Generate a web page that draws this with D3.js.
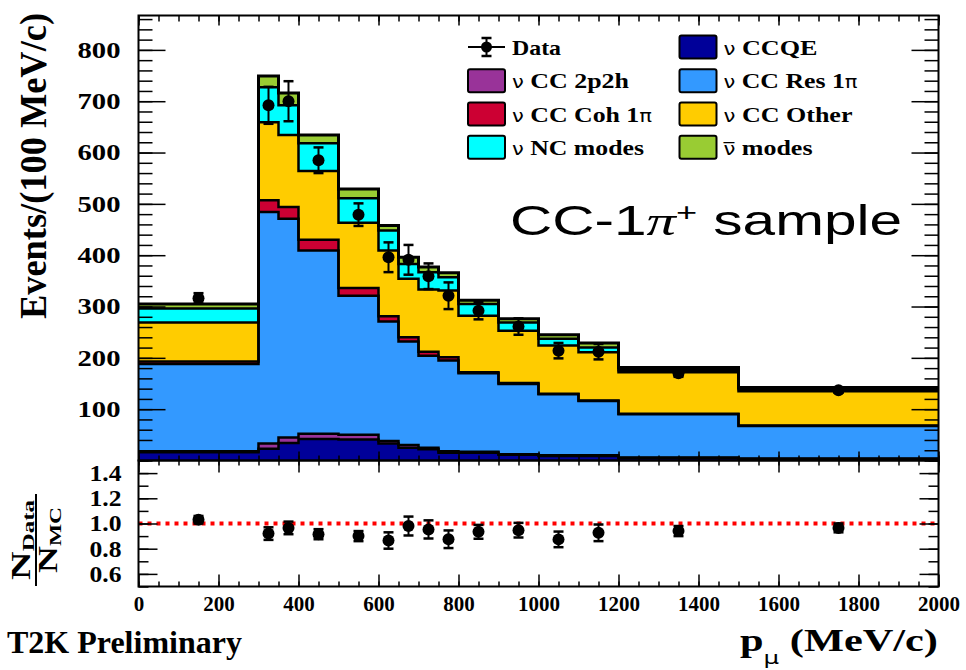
<!DOCTYPE html>
<html>
<head>
<meta charset="utf-8">
<script src="https://cdn.jsdelivr.net/npm/d3@7"></script>
<style>
  body { margin: 0; background: #fff; }
  svg { display: block; }
  text { font-family: "Liberation Serif", "Times New Roman", serif; font-weight: bold; fill: #000; }
  .tick line { stroke: #000; stroke-width: 1.5; }
</style>
</head>
<body>
<div id="chart"></div>
<script>
// ---- data (Events / 100 MeV/c) ----
const binEdges = [0, 300, 350, 400, 500, 600, 650, 700, 750, 800, 900, 1000, 1100, 1200, 1500, 2000];

const ccqe    = [16, 23, 34, 42, 41, 33, 25, 22, 15, 15, 11, 9, 9, 5, 3];
const cc2p2h  = [2, 10, 11, 10, 9, 5, 5, 3, 3, 2, 1, 1, 1, 1, 1];
const ccRes   = [170, 451, 426, 357, 271, 233, 202, 179, 177, 153, 137, 119, 106, 84, 63];
const ccCoh   = [5, 23, 23, 21, 15, 10, 8, 8, 6, 2, 2, 1, 1, 1, 1];
const ccOther = [76, 152, 140, 134, 127, 128, 114, 121, 130, 110, 102, 94, 94, 81, 67];
const ncModes = [27, 68, 58, 54, 48, 39, 29, 34, 26, 23, 16, 13, 9, 4, 4];
const antiNu  = [9, 22, 24, 16, 18, 10, 13, 10, 9, 7, 7, 8, 9, 5, 3];

const dataVal = [316, 692, 700, 585, 479, 396, 391, 359, 321, 292, 261, 214, 212, 170, 137];
const dataErr = [10, 36, 39, 25, 22, 29, 29, 25, 26, 17, 16, 15, 15, 7, 5];

const ratioVal = [1.03, 0.92, 0.965, 0.915, 0.90, 0.865, 0.98, 0.953, 0.875, 0.934, 0.947, 0.874, 0.926, 0.94, 0.965];
const ratioErr = [0.03, 0.05, 0.05, 0.04, 0.04, 0.065, 0.075, 0.072, 0.07, 0.055, 0.058, 0.062, 0.066, 0.04, 0.035];

const xTicks = [0, 200, 400, 600, 800, 1000, 1200, 1400, 1600, 1800, 2000];
const yTicks = [100, 200, 300, 400, 500, 600, 700, 800];
const rTicks = [0.6, 0.8, 1.0, 1.2, 1.4];

// stack order bottom -> top
const layers = [
  { key: "ccqe",  vals: ccqe,    color: "#000099" },
  { key: "2p2h",  vals: cc2p2h,  color: "#993399" },
  { key: "res",   vals: ccRes,   color: "#3399ff" },
  { key: "coh",   vals: ccCoh,   color: "#cc0033" },
  { key: "other", vals: ccOther, color: "#ffcc00" },
  { key: "nc",    vals: ncModes, color: "#00ffff" },
  { key: "anti",  vals: antiNu,  color: "#99cc33" },
];

const W = 966, H = 670;
const svg = d3.select("#chart").append("svg").attr("width", W).attr("height", H);
svg.append("rect").attr("width", W).attr("height", H).attr("fill", "#fff");

// scales
const x = d3.scaleLinear().domain([0, 2000]).range([138.5, 938.5]);
const y = d3.scaleLinear().domain([0, 867]).range([460.5, 15.5]);
const yr = d3.scaleLinear().domain([0.5, 1.5]).range([586.5, 460.5]);

svg.append("clipPath").attr("id", "clipTop")
  .append("rect").attr("x", x(0)).attr("y", y(867)).attr("width", x(2000) - x(0)).attr("height", y(0) - y(867));

// ---- stacked histogram ----
const rows = binEdges.map((e, i) => {
  const j = Math.min(i, binEdges.length - 2);
  const r = { edge: e };
  layers.forEach(l => { r[l.key] = l.vals[j]; });
  return r;
});
const stacked = d3.stack().keys(layers.map(l => l.key))(rows);

const area = d3.area().curve(d3.curveStepAfter)
  .x(d => x(d.data.edge)).y0(d => y(d[0])).y1(d => y(d[1]));
const line = d3.line().curve(d3.curveStepAfter)
  .x(d => x(d.data.edge)).y(d => y(d[1]));

const hist = svg.append("g").attr("clip-path", "url(#clipTop)");
hist.selectAll("path.fill").data(stacked).enter().append("path")
  .attr("class", "fill")
  .attr("d", area)
  .attr("fill", (d, i) => layers[i].color);
hist.selectAll("path.edge").data(stacked).enter().append("path")
  .attr("class", "edge")
  .attr("d", line)
  .attr("fill", "none").attr("stroke", "#000")
  .attr("stroke-width", (d, i) => i === layers.length - 1 ? 3 : 2.5);

// ---- data points ----
const centers = dataVal.map((v, i) => (binEdges[i] + binEdges[i + 1]) / 2);

function drawPoints(g, vals, errs, ys) {
  const pts = g.selectAll("g").data(vals).enter().append("g");
  pts.append("line")
    .attr("x1", (d, i) => x(centers[i])).attr("x2", (d, i) => x(centers[i]))
    .attr("y1", (d, i) => ys(d - errs[i])).attr("y2", (d, i) => ys(d + errs[i]))
    .attr("stroke", "#000").attr("stroke-width", 2);
  [-1, 1].forEach(s => {
    pts.append("line")
      .attr("x1", (d, i) => x(centers[i]) - 5).attr("x2", (d, i) => x(centers[i]) + 5)
      .attr("y1", (d, i) => ys(d + s * errs[i])).attr("y2", (d, i) => ys(d + s * errs[i]))
      .attr("stroke", "#000").attr("stroke-width", 2.5);
  });
  pts.append("circle")
    .attr("cx", (d, i) => x(centers[i])).attr("cy", d => ys(d)).attr("r", 6).attr("fill", "#000");
}
drawPoints(svg.append("g"), dataVal, dataErr, y);

// ---- ratio panel ----
svg.append("line")
  .attr("x1", x(0)).attr("x2", x(2000)).attr("y1", yr(1)).attr("y2", yr(1))
  .attr("stroke", "#ff0000").attr("stroke-width", 4).attr("stroke-dasharray", "4,5");
drawPoints(svg.append("g"), ratioVal, ratioErr, yr);

// ---- axes ----
function addAxis(axis, tx, ty) {
  const g = svg.append("g").attr("transform", `translate(${tx},${ty})`).call(axis);
  g.select(".domain").remove();
  return g;
}
const noLabel = () => "";
const minorX = d3.range(0, 2001, 50);
const minorY = d3.range(0, 867, 20);

// top panel
addAxis(d3.axisLeft(y).tickValues(minorY).tickSize(-14).tickFormat(noLabel), x(0), 0);
addAxis(d3.axisRight(y).tickValues(minorY).tickSize(-14).tickFormat(noLabel), x(2000), 0);
addAxis(d3.axisRight(y).tickValues(yTicks).tickSize(-27).tickFormat(noLabel), x(2000), 0);
const yl = addAxis(d3.axisLeft(y).tickValues(yTicks).tickSize(-27).tickPadding(18), x(0), 0);
yl.selectAll("text").style("font-size", "23px").style("font-family", "Liberation Serif")
  .attr("textLength", 43).attr("lengthAdjust", "spacingAndGlyphs");
addAxis(d3.axisTop(x).tickValues(minorX).tickSize(-6).tickFormat(noLabel), 0, y(867));
addAxis(d3.axisTop(x).tickValues(xTicks).tickSize(-10).tickFormat(noLabel), 0, y(867));
addAxis(d3.axisBottom(x).tickValues(minorX).tickSize(-5).tickFormat(noLabel), 0, y(0));
addAxis(d3.axisBottom(x).tickValues(xTicks).tickSize(-9).tickFormat(noLabel), 0, y(0));

// ratio panel
const rMinor = d3.range(5, 16).map(v => v / 10);
addAxis(d3.axisLeft(yr).tickValues(rMinor).tickSize(-10).tickFormat(noLabel), x(0), 0);
addAxis(d3.axisRight(yr).tickValues(rMinor).tickSize(-10).tickFormat(noLabel), x(2000), 0);
addAxis(d3.axisRight(yr).tickValues(rTicks).tickSize(-19).tickFormat(noLabel), x(2000), 0);
const rl = addAxis(d3.axisLeft(yr).tickValues(rTicks).tickSize(-19).tickPadding(17).tickFormat(d3.format(".1f")), x(0), 0);
rl.selectAll("text").style("font-size", "23px").style("font-family", "Liberation Serif")
  .attr("textLength", 32).attr("lengthAdjust", "spacingAndGlyphs");
addAxis(d3.axisTop(x).tickValues(minorX).tickSize(-5).tickFormat(noLabel), 0, yr(1.5));
addAxis(d3.axisTop(x).tickValues(xTicks).tickSize(-12).tickFormat(noLabel), 0, yr(1.5));
addAxis(d3.axisBottom(x).tickValues(minorX).tickSize(-5).tickFormat(noLabel), 0, yr(0.5));
const xl = addAxis(d3.axisBottom(x).tickValues(xTicks).tickSize(-12).tickPadding(10).tickFormat(d3.format("d")), 0, yr(0.5));
xl.selectAll("text").style("font-size", "21px").style("font-family", "Liberation Serif");

// frames
svg.append("rect").attr("x", x(0)).attr("y", y(867)).attr("width", x(2000) - x(0)).attr("height", y(0) - y(867))
  .attr("fill", "none").attr("stroke", "#000").attr("stroke-width", 2);
svg.append("rect").attr("x", x(0)).attr("y", yr(1.5)).attr("width", x(2000) - x(0)).attr("height", yr(0.5) - yr(1.5))
  .attr("fill", "none").attr("stroke", "#000").attr("stroke-width", 2);

// ---- titles ----
svg.append("text")
  .attr("transform", "translate(46,166) rotate(-90)")
  .attr("text-anchor", "middle")
  .style("font-size", "38px")
  .attr("textLength", 306).attr("lengthAdjust", "spacingAndGlyphs")
  .text("Events/(100 MeV/c)");

const ratioTitle = svg.append("g").attr("transform", "translate(36,540) rotate(-90)");
const rTop = ratioTitle.append("text").attr("text-anchor", "middle").attr("y", -6).style("font-size", "27px")
  .attr("textLength", 80).attr("lengthAdjust", "spacingAndGlyphs");
rTop.append("tspan").text("N");
rTop.append("tspan").attr("dy", 4).style("font-size", "17px").text("Data");
ratioTitle.append("line").attr("x1", -46).attr("x2", 46).attr("y1", 0).attr("y2", 0)
  .attr("stroke", "#000").attr("stroke-width", 2);
const rBot = ratioTitle.append("text").attr("text-anchor", "middle").attr("y", 21).style("font-size", "27px")
  .attr("textLength", 66).attr("lengthAdjust", "spacingAndGlyphs");
rBot.append("tspan").text("N");
rBot.append("tspan").attr("dy", 4).style("font-size", "17px").text("MC");

const xt = svg.append("text").attr("x", 740).attr("y", 651).style("font-size", "31px")
  .attr("textLength", 198).attr("lengthAdjust", "spacingAndGlyphs");
xt.append("tspan").text("p");
xt.append("tspan").attr("dy", 13).style("font-size", "18px").style("font-weight", "normal")
  .style("font-family", "DejaVu Sans").text("\u03bc");
xt.append("tspan").attr("dy", -13).text(" (MeV/c)");

svg.append("text").attr("x", 7).attr("y", 653).style("font-size", "32px").text("T2K Preliminary");

const big = svg.append("text").attr("x", 510).attr("y", 235)
  .style("font-family", "Liberation Sans").style("font-weight", "normal").style("font-size", "42px")
  .attr("textLength", 392).attr("lengthAdjust", "spacingAndGlyphs");
big.append("tspan").text("CC-1");
big.append("tspan").style("font-family", "Liberation Serif").style("font-style", "italic").text("\u03c0");
big.append("tspan").attr("dy", -14).style("font-size", "26px").text("+");
big.append("tspan").attr("dy", 14).text(" sample");

// ---- legend ----
const legendItems = [
  { key: "data",  label: "Data",     col: 0, row: 0, len: 49 },
  { key: "2p2h",  label: "CC 2p2h",  col: 0, row: 1, len: 117, nu: true },
  { key: "coh",   label: "CC Coh 1", col: 0, row: 2, len: 140, nu: true, pi: true },
  { key: "nc",    label: "NC modes", col: 0, row: 3, len: 132, nu: true },
  { key: "ccqe",  label: "CCQE",     col: 1, row: 0, len: 94, nu: true },
  { key: "res",   label: "CC Res 1", col: 1, row: 1, len: 134, nu: true, pi: true },
  { key: "other", label: "CC Other", col: 1, row: 2, len: 129, nu: true },
  { key: "anti",  label: "modes",    col: 1, row: 3, len: 89, nu: true, bar: true },
];
const colBox = [468, 679.5], colText = [512, 723.5];
const rowY = [47, 80.7, 114, 147.3];
const legend = svg.append("g");
legendItems.forEach(it => {
  const cy = rowY[it.row];
  const bx = colBox[it.col];
  if (it.key === "data") {
    legend.append("line").attr("x1", bx).attr("x2", bx + 37).attr("y1", cy).attr("y2", cy)
      .attr("stroke", "#000").attr("stroke-width", 2);
    legend.append("line").attr("x1", bx + 18.5).attr("x2", bx + 18.5).attr("y1", cy - 9).attr("y2", cy + 9)
      .attr("stroke", "#000").attr("stroke-width", 2);
    [-9, 9].forEach(o => legend.append("line").attr("x1", bx + 13.5).attr("x2", bx + 23.5)
      .attr("y1", cy + o).attr("y2", cy + o).attr("stroke", "#000").attr("stroke-width", 2.5));
    legend.append("circle").attr("cx", bx + 18.5).attr("cy", cy).attr("r", 5.5).attr("fill", "#000");
  } else {
    const l = layers.find(l => l.key === it.key);
    legend.append("rect").attr("x", bx).attr("y", cy - 11.5).attr("width", 37).attr("height", 23)
      .attr("rx", 2).attr("fill", l.color).attr("stroke", "#000").attr("stroke-width", 2);
  }
  const t = legend.append("text").attr("x", colText[it.col]).attr("y", cy + 7.5).style("font-size", "22px")
    .attr("textLength", it.len).attr("lengthAdjust", "spacingAndGlyphs");
  if (it.nu) {
    t.append("tspan").style("font-family", "DejaVu Sans").style("font-weight", "normal").style("font-size", "18px")
      .text(it.bar ? "\u03bd\u0305" : "\u03bd");
    t.append("tspan").text(" " + it.label);
  } else {
    t.append("tspan").text(it.label);
  }
  if (it.pi) {
    t.append("tspan").style("font-family", "DejaVu Sans").style("font-weight", "normal").style("font-size", "18px").text("\u03c0");
  }
});
</script>
</body>
</html>
